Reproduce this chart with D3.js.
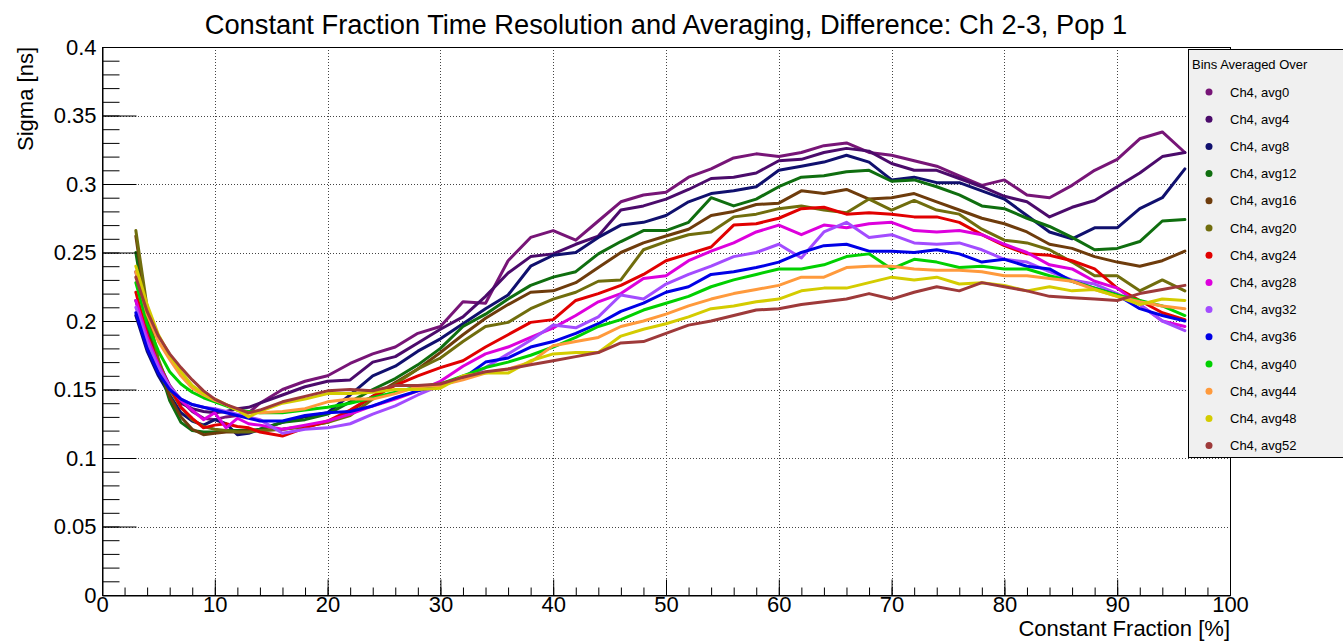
<!DOCTYPE html>
<html>
<head>
<meta charset="utf-8">
<script src="https://cdn.jsdelivr.net/npm/d3@7"></script>
<style>
  html, body { margin: 0; padding: 0; background: #fff; }
  svg { display: block; font-family: "Liberation Sans", Arial, Helvetica, sans-serif; }
</style>
</head>
<body>
<svg id="chart" width="1343" height="643"></svg>
<script>
// Constant fraction settings [%] shared by every series
const fractions = [3,4,5,6,7,8,9,10,11,12,13,14,16,18,20,22,24,26,28,30,32,34,36,38,40,42,44,46,48,50,52,54,56,58,60,62,64,66,68,70,72,74,76,78,80,82,84,86,88,90,92,94,96];

// Sigma [ns] per constant fraction, one array per averaging window
const avg0 = [0.236,0.196,0.170,0.153,0.142,0.134,0.129,0.128,0.130,0.131,0.133,
  0.140,0.150,0.156,0.160,0.169,0.176,0.181,0.191,0.196,
  0.214,0.213,0.244,0.261,0.266,0.259,0.273,0.287,0.292,0.294,
  0.305,0.311,0.319,0.322,0.320,0.323,0.328,0.330,0.323,0.321,
  0.317,0.313,0.306,0.299,0.303,0.292,0.290,0.299,0.310,0.318,
  0.333,0.338,0.323];
const avg4 = [0.215,0.185,0.163,0.150,0.140,0.136,0.134,0.133,0.134,0.136,0.137,
  0.140,0.146,0.152,0.156,0.157,0.170,0.174,0.184,0.194,
  0.203,0.218,0.235,0.247,0.249,0.256,0.262,0.281,0.284,0.289,
  0.296,0.304,0.305,0.308,0.317,0.318,0.323,0.326,0.324,0.315,
  0.310,0.310,0.304,0.298,0.291,0.287,0.276,0.283,0.288,0.298,
  0.308,0.320,0.323];
const avg8 = [0.204,0.178,0.160,0.146,0.133,0.127,0.124,0.128,0.125,0.117,0.118,
  0.121,0.126,0.130,0.133,0.146,0.160,0.167,0.178,0.187,
  0.198,0.209,0.219,0.240,0.248,0.250,0.261,0.270,0.272,0.277,
  0.287,0.293,0.295,0.298,0.310,0.313,0.316,0.321,0.316,0.303,
  0.305,0.301,0.301,0.295,0.289,0.277,0.265,0.260,0.268,0.268,
  0.282,0.290,0.311];
const avg12 = [0.250,0.200,0.168,0.142,0.126,0.120,0.119,0.119,0.120,0.120,0.120,
  0.121,0.126,0.128,0.132,0.141,0.150,0.158,0.168,0.180,
  0.196,0.205,0.216,0.226,0.232,0.236,0.249,0.258,0.266,0.266,
  0.272,0.290,0.284,0.289,0.298,0.305,0.306,0.309,0.310,0.302,
  0.303,0.298,0.292,0.284,0.282,0.275,0.269,0.261,0.252,0.253,
  0.258,0.273,0.274];
const avg16 = [0.262,0.205,0.168,0.145,0.130,0.121,0.117,0.118,0.119,0.119,0.120,
  0.120,0.121,0.123,0.126,0.134,0.145,0.155,0.165,0.177,
  0.190,0.202,0.212,0.221,0.222,0.228,0.239,0.250,0.257,0.262,
  0.267,0.277,0.280,0.285,0.286,0.295,0.293,0.296,0.289,0.290,
  0.293,0.287,0.281,0.275,0.271,0.265,0.256,0.253,0.247,0.243,
  0.240,0.244,0.251];
const avg20 = [0.266,0.210,0.172,0.150,0.137,0.128,0.123,0.121,0.120,0.119,0.119,
  0.120,0.121,0.123,0.126,0.131,0.143,0.154,0.165,0.173,
  0.185,0.196,0.199,0.209,0.216,0.221,0.229,0.230,0.252,0.258,
  0.263,0.265,0.276,0.278,0.282,0.284,0.281,0.279,0.289,0.281,
  0.288,0.281,0.278,0.267,0.259,0.257,0.252,0.243,0.233,0.233,
  0.222,0.230,0.222];
const avg24 = [0.221,0.190,0.168,0.152,0.137,0.129,0.122,0.124,0.125,0.123,0.122,
  0.119,0.116,0.122,0.127,0.135,0.145,0.153,0.160,0.166,
  0.171,0.181,0.190,0.199,0.201,0.215,0.220,0.226,0.234,0.244,
  0.249,0.254,0.270,0.271,0.275,0.282,0.283,0.278,0.279,0.278,
  0.276,0.276,0.272,0.263,0.255,0.249,0.248,0.244,0.238,0.224,
  0.215,0.206,0.201];
const avg28 = [0.215,0.188,0.168,0.152,0.142,0.135,0.128,0.133,0.122,0.129,0.125,
  0.124,0.121,0.124,0.127,0.132,0.138,0.143,0.149,0.156,
  0.167,0.176,0.181,0.188,0.195,0.204,0.214,0.220,0.231,0.233,
  0.244,0.251,0.257,0.265,0.270,0.263,0.270,0.268,0.271,0.272,
  0.266,0.265,0.266,0.263,0.256,0.250,0.241,0.238,0.229,0.224,
  0.212,0.200,0.196];
const avg32 = [0.210,0.185,0.166,0.152,0.143,0.139,0.137,0.136,0.134,0.132,0.130,
  0.128,0.118,0.121,0.122,0.125,0.132,0.138,0.146,0.153,
  0.158,0.166,0.176,0.186,0.197,0.195,0.203,0.219,0.216,0.227,
  0.234,0.240,0.247,0.250,0.256,0.246,0.265,0.272,0.261,0.263,
  0.257,0.256,0.257,0.252,0.245,0.243,0.236,0.230,0.227,0.220,
  0.212,0.200,0.193];
const avg36 = [0.206,0.180,0.162,0.150,0.143,0.139,0.137,0.135,0.133,0.131,0.129,
  0.127,0.127,0.131,0.133,0.134,0.138,0.144,0.149,0.153,
  0.158,0.170,0.173,0.181,0.185,0.191,0.198,0.207,0.213,0.221,
  0.225,0.234,0.236,0.239,0.243,0.250,0.255,0.256,0.251,0.251,
  0.250,0.252,0.249,0.243,0.245,0.240,0.238,0.229,0.224,0.219,
  0.209,0.204,0.200];
const avg40 = [0.228,0.198,0.178,0.163,0.154,0.148,0.144,0.141,0.138,0.135,0.134,
  0.133,0.133,0.135,0.137,0.140,0.144,0.148,0.152,0.154,
  0.160,0.166,0.170,0.175,0.181,0.188,0.196,0.201,0.208,0.213,
  0.218,0.225,0.230,0.234,0.238,0.238,0.241,0.247,0.249,0.238,
  0.245,0.243,0.239,0.240,0.238,0.238,0.233,0.229,0.224,0.219,
  0.215,0.211,0.204];
const avg44 = [0.236,0.205,0.185,0.172,0.160,0.151,0.146,0.142,0.139,0.135,0.133,
  0.133,0.134,0.136,0.141,0.143,0.143,0.147,0.152,0.153,
  0.157,0.162,0.165,0.170,0.182,0.185,0.188,0.196,0.200,0.205,
  0.211,0.216,0.220,0.223,0.226,0.232,0.232,0.239,0.240,0.240,
  0.238,0.237,0.237,0.236,0.233,0.233,0.231,0.229,0.223,0.218,
  0.214,0.211,0.209];
const avg48 = [0.240,0.212,0.190,0.175,0.163,0.153,0.147,0.143,0.139,0.135,0.130,
  0.134,0.140,0.143,0.147,0.147,0.148,0.150,0.150,0.151,
  0.160,0.162,0.162,0.171,0.176,0.177,0.177,0.189,0.194,0.198,
  0.203,0.209,0.211,0.214,0.216,0.222,0.224,0.224,0.228,0.232,
  0.230,0.232,0.227,0.228,0.226,0.222,0.225,0.222,0.223,0.218,
  0.212,0.216,0.215];
const avg52 = [0.232,0.207,0.189,0.176,0.166,0.157,0.149,0.143,0.139,0.136,0.133,
  0.135,0.141,0.145,0.149,0.150,0.149,0.153,0.153,0.154,
  0.159,0.163,0.165,0.168,0.171,0.174,0.177,0.184,0.185,0.191,
  0.197,0.200,0.204,0.208,0.209,0.212,0.214,0.216,0.220,0.216,
  0.221,0.225,0.222,0.228,0.225,0.222,0.218,0.217,0.216,0.215,
  0.220,0.223,0.226];

const seriesLabels = ["Ch4, avg0","Ch4, avg4","Ch4, avg8","Ch4, avg12","Ch4, avg16","Ch4, avg20","Ch4, avg24",
                      "Ch4, avg28","Ch4, avg32","Ch4, avg36","Ch4, avg40","Ch4, avg44","Ch4, avg48","Ch4, avg52"];
const seriesValues = [avg0, avg4, avg8, avg12, avg16, avg20, avg24, avg28, avg32, avg36, avg40, avg44, avg48, avg52];
const seriesColors = ["#771577","#4b0b6b","#10106e","#0f6e0f","#6e3c0c","#706d0d","#e10000",
                      "#dd00dd","#a34cff","#0000e6","#00d000","#ff9a3c","#d4cc00","#9e3a3a"];

const xMajorTicks = [0,10,20,30,40,50,60,70,80,90,100];
const yMajorTicks = [0,0.05,0.1,0.15,0.2,0.25,0.3,0.35,0.4];

const titleText = "Constant Fraction Time Resolution and Averaging, Difference: Ch 2-3, Pop 1";
const xTitle = "Constant Fraction [%]";
const yTitle = "Sigma [ns]";
const legendTitle = "Bins Averaged Over";

// ---- layout ----
const svg = d3.select("#chart");
const L = 102, R = 1230, T = 47, B = 595;
const x = d3.scaleLinear().domain([0, 100]).range([L, R]);
const y = d3.scaleLinear().domain([0, 0.4]).range([B, T]);

// dotted grid at major ticks
const grid = svg.append("g").attr("stroke", "#444").attr("stroke-width", 1).attr("stroke-dasharray", "1,2");
grid.selectAll("line.gx").data(xMajorTicks.slice(1, -1)).join("line")
  .attr("x1", d => Math.round(x(d)) + 0.5).attr("x2", d => Math.round(x(d)) + 0.5)
  .attr("y1", T).attr("y2", B);
grid.selectAll("line.gy").data(yMajorTicks.slice(1, -1)).join("line")
  .attr("y1", d => Math.round(y(d)) + 0.5).attr("y2", d => Math.round(y(d)) + 0.5)
  .attr("x1", L).attr("x2", R);

// frame
svg.append("rect").attr("x", L + 0.5).attr("y", T + 0.5).attr("width", R - L).attr("height", B - T)
  .attr("fill", "none").attr("stroke", "#000").attr("stroke-width", 1);

// curves
const line = d3.line().x(d => x(d[0])).y(d => y(d[1])).curve(d3.curveLinear);
svg.append("g").selectAll("path").data(seriesValues).join("path")
  .attr("d", vals => line(fractions.map((f, i) => [f, vals[i]])))
  .attr("fill", "none")
  .attr("stroke", (d, i) => seriesColors[i])
  .attr("stroke-width", 3)
  .attr("stroke-linejoin", "round")
  .attr("stroke-linecap", "round");

// x axis: ticks pointing into the frame
const xMinor = d3.range(0, 100.001, 2);
svg.append("g").attr("transform", `translate(0,${B + 0.5})`)
  .call(d3.axisBottom(x).tickValues(xMinor).tickSizeInner(-8).tickSizeOuter(0).tickFormat(""))
  .call(g => g.select(".domain").remove());
svg.append("g").attr("class", "xaxis").attr("transform", `translate(0,${B + 0.5})`)
  .call(d3.axisBottom(x).tickValues(xMajorTicks).tickSizeInner(-16).tickSizeOuter(0).tickPadding(1).tickFormat(d3.format("d")))
  .call(g => g.select(".domain").attr("stroke", "#000"));

// y axis
const yMinor = d3.range(0, 0.4001, 0.01);
svg.append("g").attr("transform", `translate(${L + 0.5},0)`)
  .call(d3.axisLeft(y).tickValues(yMinor).tickSizeInner(-17).tickSizeOuter(0).tickFormat(""))
  .call(g => g.select(".domain").remove());
svg.append("g").attr("class", "yaxis").attr("transform", `translate(${L + 0.5},0)`)
  .call(d3.axisLeft(y).tickValues(yMajorTicks).tickSizeInner(-34).tickSizeOuter(0).tickPadding(6).tickFormat(d => String(+d.toFixed(2))))
  .call(g => g.select(".domain").attr("stroke", "#000"));

svg.selectAll(".tick line").attr("stroke", "#000").attr("stroke-width", 1);
svg.selectAll(".xaxis text, .yaxis text").attr("font-size", 22).attr("fill", "#000")
  .attr("font-family", "Liberation Sans, Arial, sans-serif");
svg.selectAll(".xaxis .tick text").attr("dy", "0.71em");

// axis titles
svg.append("text").attr("x", R).attr("y", 636).attr("text-anchor", "end")
  .attr("font-size", 22).text(xTitle);
svg.append("text").attr("transform", `translate(33,${T}) rotate(-90)`).attr("text-anchor", "end")
  .attr("font-size", 22).text(yTitle);

// title, scaled to span the plot's title width
const title = svg.append("text").attr("x", (L + R) / 2).attr("y", 34).attr("text-anchor", "middle")
  .attr("font-size", 24).text(titleText);
const tw = title.node().getComputedTextLength();
title.attr("font-size", 24 * 923 / tw);

// legend
const lg = svg.append("g");
lg.append("rect").attr("x", 1188.5).attr("y", 49.5).attr("width", 170).attr("height", 408)
  .attr("fill", "#f0f0f0").attr("stroke", "#000").attr("stroke-width", 1);
lg.append("text").attr("x", 1192).attr("y", 69).attr("font-size", 13).attr("fill", "#000").text(legendTitle);
const rowY = i => 92 + i * 27.2;
lg.selectAll("circle").data(seriesLabels).join("circle")
  .attr("cx", 1209).attr("cy", (d, i) => rowY(i)).attr("r", 3.5)
  .attr("fill", (d, i) => seriesColors[i]);
lg.selectAll("text.entry").data(seriesLabels).join("text").attr("class", "entry")
  .attr("x", 1230).attr("y", (d, i) => rowY(i) + 4.5).attr("font-size", 13).attr("fill", "#000")
  .text(d => d);
</script>
</body>
</html>
